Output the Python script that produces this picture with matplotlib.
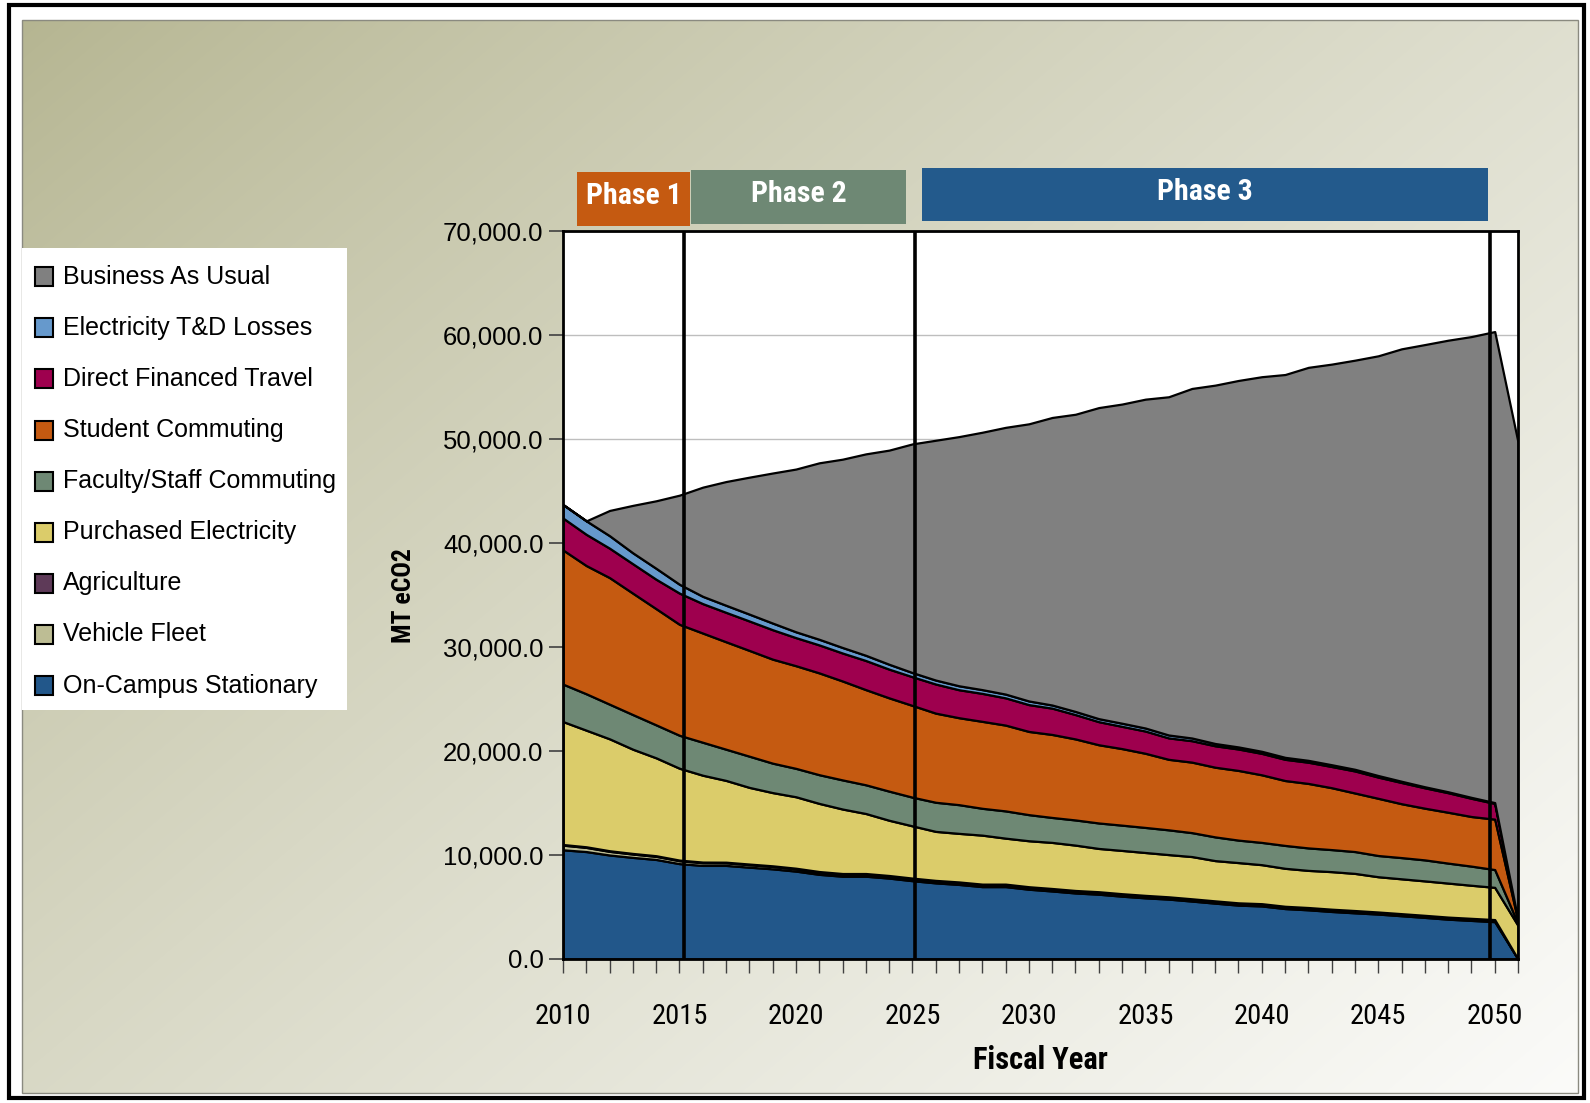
import numpy as np
import matplotlib
matplotlib.use("Agg")
import matplotlib.pyplot as plt
from matplotlib.patches import Rectangle
from matplotlib.font_manager import fontManager

# ---------------- data ----------------
years = list(range(2010, 2052))

on_campus_stationary = [10500, 10330, 10000, 9770, 9570, 9170, 9000, 9000, 8830, 8670,
                        8450, 8140, 7960, 7960, 7780, 7530, 7320, 7170, 6960, 6960,
                        6710, 6540, 6350, 6230, 6040, 5880, 5760, 5570, 5370, 5180,
                        5100, 4850, 4730, 4570, 4440, 4320, 4160, 4000, 3830, 3710,
                        3590, 0]
vehicle_fleet = [450, 400, 350, 320, 300, 280, 260, 250, 240, 230,
                 220, 210, 200, 200, 190, 190, 180, 180, 180, 180,
                 180, 180, 180, 180, 180, 180, 160, 160, 160, 160,
                 160, 160, 160, 160, 160, 140, 140, 140, 140, 140,
                 140, 0]
agriculture = [60] * 41 + [0]
purchased_electricity = [11820, 11210, 10760, 10020, 9410, 8830, 8350, 7860, 7370, 7040,
                         6870, 6550, 6200, 5770, 5310, 5020, 4710, 4670, 4710, 4420,
                         4420, 4430, 4360, 4160, 4160, 4120, 4060, 4060, 3870, 3870,
                         3750, 3650, 3570, 3610, 3570, 3390, 3350, 3310, 3270, 3180,
                         3100, 3220]
faculty_staff_commuting = [3600, 3500, 3330, 3330, 3170, 3170, 3170, 3000, 3000, 2830,
                           2730, 2760, 2800, 2760, 2800, 2760, 2800, 2760, 2580, 2620,
                           2510, 2400, 2420, 2450, 2430, 2410, 2380, 2300, 2280, 2160,
                           2140, 2200, 2160, 2120, 2100, 2040, 2040, 2020, 1920, 1840,
                           1710, 180]
student_commuting = [12900, 12330, 12170, 11670, 11170, 10670, 10500, 10330, 10170, 10000,
                     9870, 9790, 9510, 9150, 8970, 8820, 8570, 8360, 8360, 8250,
                     8000, 7980, 7790, 7520, 7360, 7130, 6780, 6780, 6700, 6700,
                     6500, 6240, 6200, 5950, 5630, 5500, 5180, 4970, 4890, 4770,
                     4850, 250]
direct_financed_travel = [3070, 3000, 2830, 2830, 2830, 3000, 2830, 2830, 2830, 2830,
                          2700, 2690, 2690, 2800, 2760, 2760, 2800, 2690, 2690, 2620,
                          2580, 2530, 2340, 2220, 2140, 2140, 2060, 2060, 2060, 2060,
                          2060, 2040, 2040, 2040, 2120, 2040, 2040, 1960, 1880, 1750,
                          1510, 100]
electricity_td_losses = [1300, 1300, 1200, 1050, 1050, 850, 700, 680, 660, 640,
                         560, 540, 530, 500, 470, 400, 380, 380, 360, 360,
                         350, 300, 300, 290, 300, 290, 280, 260, 220, 200,
                         200, 190, 180, 170, 160, 150, 120, 100, 90, 90,
                         80, 0]
business_as_usual = [0, 0, 2430, 4570, 6500, 8570, 10500, 11900, 13170, 14430,
                     15650, 16970, 18110, 19370, 20590, 21990, 23060, 23960, 24750, 25650,
                     26650, 27650, 28580, 29910, 30690, 31620, 32520, 33610, 34460, 35240,
                     36020, 36810, 37790, 38520, 39340, 40360, 41580, 42520, 43420, 44310,
                     45290, 45950]

series_names = ["On-Campus Stationary", "Vehicle Fleet", "Agriculture",
                "Purchased Electricity", "Faculty/Staff Commuting", "Student Commuting",
                "Direct Financed Travel", "Electricity T&D Losses", "Business As Usual"]
series_colors = ["#22578A", "#BDBD94", "#5E3A58", "#DBCC6A", "#6E8874",
                 "#C55A11", "#9E004E", "#6699CC", "#808080"]

y_ticks = list(range(0, 70001, 10000))
x_major = list(range(2010, 2051, 5))
phase_labels = ["Phase 1", "Phase 2", "Phase 3"]
phase_colors = ["#C55A11", "#6E8874", "#235A8C"]
phase_bounds = [2015.2, 2025.1, 2049.8]

# ---------------- fonts ----------------
avail = {f.name for f in fontManager.ttflist}
REG = "Liberation Sans" if "Liberation Sans" in avail else "DejaVu Sans"
NARROW = REG
for cand in ["Liberation Sans Narrow", "Arial Narrow", "Nimbus Sans Narrow",
             "Roboto Condensed", "Open Sans Condensed"]:
    if cand in avail:
        NARROW = cand
        break

# ---------------- figure ----------------
W, H = 1590, 1103
fig = plt.figure(figsize=(15.9, 11.03), dpi=100)
fig.patch.set_facecolor("white")

bg = fig.add_axes([0, 0, 1, 1], zorder=0)
gx0, gx1, gy0, gy1 = 22, 1578, 20, 1093
nx, ny = 400, 300
xx, yy = np.meshgrid(np.linspace(0, 1, nx), np.linspace(0, 1, ny))
t = np.clip(0.55 * xx + 0.45 * yy, 0, 1) ** 0.85
c0 = np.array([181, 181, 145]) / 255.0
c1 = np.array([251, 251, 249]) / 255.0
img = c0 + (c1 - c0) * t[..., None]
bg.imshow(img, extent=[gx0, gx1, gy1, gy0], aspect="auto", interpolation="bilinear")
bg.add_patch(Rectangle((gx0, gy0), gx1 - gx0, gy1 - gy0, fill=False, ec="#8a8a80", lw=1))
bg.add_patch(Rectangle((9, 5), 1575, 1093, fill=False, ec="black", lw=3))
bg.set_xlim(0, W)
bg.set_ylim(H, 0)
bg.axis("off")

# phase boxes
phase_boxes = [(577, 172, 690, 225.5), (691, 170, 906, 223.5), (922, 168, 1488, 221)]
for (x0, y0, x1, y1), lab, col in zip(phase_boxes, phase_labels, phase_colors):
    bg.add_patch(Rectangle((x0, y0), x1 - x0, y1 - y0, fc=col, ec="none"))
    bg.text((x0 + x1) / 2, (y0 + y1) / 2 - 3, lab, color="white", ha="center", va="center",
            fontsize=21.5, fontweight="bold", family=NARROW)

# legend (manual)
bg.add_patch(Rectangle((22, 248), 325, 462, fc="white", ec="none"))
legend_order = list(range(len(series_names)))[::-1]
for i, k in enumerate(legend_order):
    cy = 276.7 + 51.1 * i
    bg.add_patch(Rectangle((34.5, cy - 9.5), 18.5, 19, fc=series_colors[k], ec="black", lw=1.5))
    bg.text(63, cy + 7, series_names[k], ha="left", va="baseline", fontsize=18,
            family=REG, color="black")

# axis titles
bg.text(1040, 1060, "Fiscal Year", ha="center", va="center", fontsize=22,
        fontweight="bold", family=NARROW)
bg.text(404, 596, "MT eCO2", ha="center", va="center", rotation=90, fontsize=18.5,
        fontweight="bold", family=NARROW)

# ---------------- main plot ----------------
ax = fig.add_axes([563 / W, 1 - 959 / H, (1518 - 563) / W, (959 - 231) / H], zorder=2)
ax.set_facecolor("white")
layers = [on_campus_stationary, vehicle_fleet, agriculture, purchased_electricity,
          faculty_staff_commuting, student_commuting, direct_financed_travel,
          electricity_td_losses, business_as_usual]
ax.stackplot(years, *layers, colors=series_colors, edgecolor="black", linewidth=1.6, zorder=2)

for xb in phase_bounds:
    ax.axvline(xb, color="black", lw=2.6, zorder=4)

ax.set_xlim(2010, 2051)
ax.set_ylim(0, 70000)
ax.set_yticks(y_ticks)
ax.set_yticklabels([f"{v:,.1f}" for v in y_ticks], family=REG, fontsize=18.5)
ax.set_xticks(x_major)
ax.set_xticklabels([str(y) for y in x_major], family=NARROW, fontsize=20.5)
ax.set_xticks(years, minor=True)
ax.tick_params(axis="x", which="both", direction="out", length=10, width=1,
               color="#404040", pad=22)
ax.tick_params(axis="y", which="both", direction="out", length=10, width=1.2,
               color="#404040", pad=4)
ax.yaxis.grid(True, color="#BEBEBE", lw=1)
ax.set_axisbelow(True)
for s in ax.spines.values():
    s.set_color("black")
    s.set_linewidth(2)
    s.set_zorder(5)

fig.savefig("out.png", dpi=100)
